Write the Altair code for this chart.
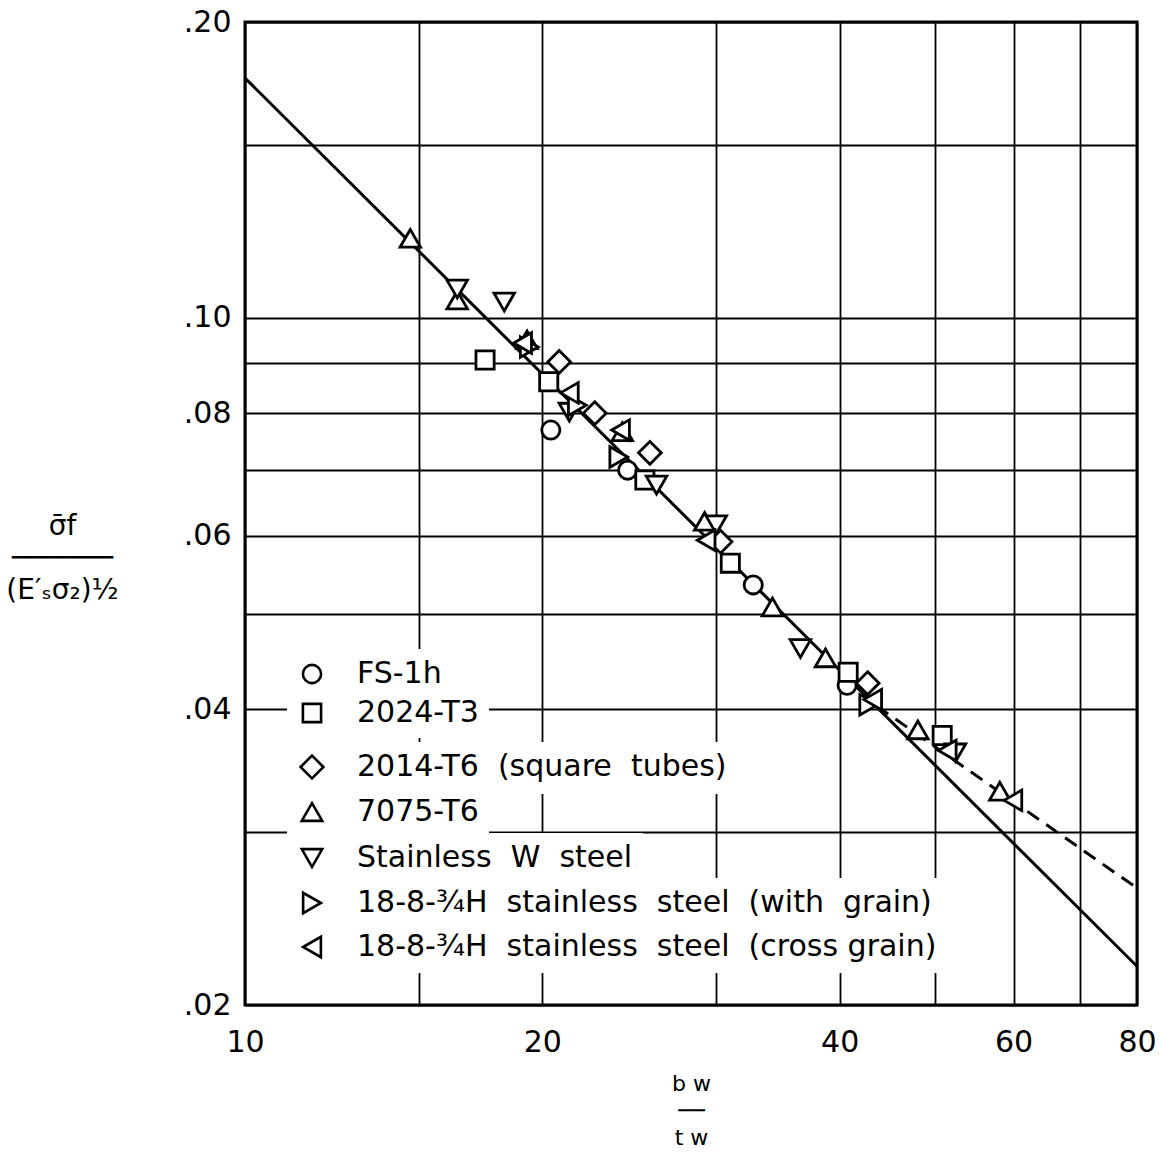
import altair as alt
import pandas as pd

NB = "\u00a0"
# ---- data (b_w/t_w, sigma_f/(E's sigma_2)^1/2) ----
series_names = [
    "FS-1h",
    "2024-T3",
    "2014-T6" + NB + " (square" + NB + " tubes)",
    "7075-T6",
    "Stainless" + NB + " W" + NB + " steel",
    "18-8-\u00beH" + NB + " stainless" + NB + " steel" + NB + " (with" + NB + " grain)",
    "18-8-\u00beH" + NB + " stainless" + NB + " steel" + NB + " (cross grain)",
]
series_shapes = ["circle", "square", "diamond", "triangle-up", "triangle-down",
                 "triangle-right", "triangle-left"]
series_sizes = [330, 330, 520, 420, 420, 420, 420]

circle_x = [20.4, 24.4, 32.7, 40.7]
circle_y = [0.0769, 0.0700, 0.0535, 0.0423]

square_x = [17.5, 20.3, 25.4, 31.0, 40.8, 50.8]
square_y = [0.0906, 0.0861, 0.0684, 0.0563, 0.0436, 0.0376]

diamond_x = [20.8, 22.6, 25.7, 30.3, 42.7]
diamond_y = [0.0902, 0.0800, 0.0729, 0.0592, 0.0425]

tri_up_x = [14.7, 16.4, 19.3, 24.1, 29.2, 34.2, 38.7, 48.0, 58.1]
tri_up_y = [0.1205, 0.1043, 0.0950, 0.0766, 0.0621, 0.0508, 0.0451, 0.0381, 0.0330]

tri_down_x = [16.4, 18.3, 21.3, 26.1, 30.0, 36.5, 52.4]
tri_down_y = [0.1070, 0.1038, 0.0802, 0.0676, 0.0616, 0.0461, 0.0361]

tri_right_x = [19.4, 21.7, 23.9, 42.8]
tri_right_y = [0.0934, 0.0815, 0.0722, 0.0404]

tri_left_x = [19.1, 21.3, 24.0, 29.3, 43.2, 51.4, 59.9]
tri_left_y = [0.0943, 0.0839, 0.0769, 0.0594, 0.0409, 0.0363, 0.0323]

series_x = [circle_x, square_x, diamond_x, tri_up_x, tri_down_x, tri_right_x, tri_left_x]
series_y = [circle_y, square_y, diamond_y, tri_up_y, tri_down_y, tri_right_y, tri_left_y]

# fitted lines
solid_x = [10.0, 80.0]
solid_y = [0.1754, 0.0219]
dash_x = [43.6, 80.0]
dash_y = [0.0403, 0.0263]

x_grid_values = [10, 15, 20, 30, 40, 50, 60, 70, 80]
x_label_values = [10, 20, 40, 60, 80]
y_grid_values = [0.02, 0.03, 0.04, 0.05, 0.06, 0.07, 0.08, 0.09, 0.10, 0.15, 0.20]
y_label_hundredths = [2, 4, 6, 8, 10, 20]

FONT = "DejaVu Sans"

x_axis = alt.Axis(
    values=x_grid_values,
    labelExpr="indexof(%s, datum.value) >= 0 ? format(datum.value, 'd') : ''" % x_label_values,
    grid=True, gridColor="black", gridWidth=1.8, gridOpacity=1,
    ticks=False, domain=False, labelFlush=False, labelOverlap=False,
    labelFont=FONT, labelFontSize=30, labelColor="black", labelPadding=22,
    title=["b" + NB + "w", "\u2500\u2500", "t" + NB + "w"], titleFont=FONT, titleFontSize=22,
    titleFontWeight="normal", titleColor="black", titleLineHeight=27,
    titleX=446, titleY=68, titleAlign="center", titleBaseline="top",
)
y_axis = alt.Axis(
    values=y_grid_values,
    labelExpr="indexof(%s, round(datum.value*100)) >= 0 ? substring(format(datum.value, '.2f'), 1) : ''" % y_label_hundredths,
    grid=True, gridColor="black", gridWidth=1.8, gridOpacity=1,
    ticks=False, domain=False, labelFlush=False, labelOverlap=False,
    labelFont=FONT, labelFontSize=30, labelColor="black", labelPadding=14,
    title=["\u03c3\u0304f", "\u2500\u2500\u2500\u2500\u2500\u2500", "(E\u2032\u209b\u03c3\u2082)\u00bd"],
    titleFont=FONT, titleFontSize=28, titleFontWeight="normal", titleColor="black",
    titleAngle=0, titleLineHeight=32, titleX=-183, titleY=490,
    titleAlign="center", titleBaseline="top",
)

x_scale = alt.Scale(type="log", domain=[10, 80], nice=False)
y_scale = alt.Scale(type="log", domain=[0.02, 0.2], nice=False)


def xenc():
    return alt.X("x:Q", scale=x_scale, axis=x_axis)


def yenc():
    return alt.Y("y:Q", scale=y_scale, axis=y_axis)


solid = alt.Chart(pd.DataFrame({"x": solid_x, "y": solid_y})).mark_line(
    color="black", strokeWidth=3, clip=True
).encode(x=xenc(), y=yenc())

dashed = alt.Chart(pd.DataFrame({"x": dash_x, "y": dash_y})).mark_line(
    color="black", strokeWidth=3, strokeDash=[14, 9], clip=True
).encode(x=xenc(), y=yenc())

# legend rows (each series its own legend box, white background)
row_centers = [652, 691, 745, 790, 836, 881, 925]

point_layers = []
for name, shp, sz, xs, ys, yc in zip(series_names, series_shapes, series_sizes,
                                     series_x, series_y, row_centers):
    df = pd.DataFrame({"x": xs, "y": ys, "series": [name] * len(xs)})

    def make_legend():
        return alt.Legend(
            orient="none", legendX=42, legendY=yc - 25, title=None,
            fillColor="white", padding=10,
            labelFont=FONT, labelFontSize=30, labelColor="black",
            labelOffset=30, labelLimit=2000,
            symbolSize=sz, symbolStrokeWidth=2.6,
            symbolFillColor="white", symbolOpacity=1,
        )

    layer = alt.Chart(df).mark_point(
        filled=False, fill="white", fillOpacity=1,
        strokeWidth=2.8, size=sz, opacity=1
    ).encode(
        x=xenc(), y=yenc(),
        color=alt.Color("series:N", scale=alt.Scale(domain=[name], range=["black"]),
                        legend=make_legend()),
        shape=alt.Shape("series:N", scale=alt.Scale(domain=[name], range=[shp]),
                        legend=make_legend()),
    )
    point_layers.append(layer)

chart = alt.layer(solid, dashed, *point_layers).resolve_scale(
    shape="independent", color="independent"
).properties(
    width=892, height=983,
    autosize=alt.AutoSizeParams(type="none"),
    padding={"left": 245, "top": 22, "right": 24, "bottom": 152},
).configure(font=FONT, background="white").configure_view(
    stroke="black", strokeWidth=3
)

chart.save("out.html", embed_options={"renderer": "svg", "actions": False})
